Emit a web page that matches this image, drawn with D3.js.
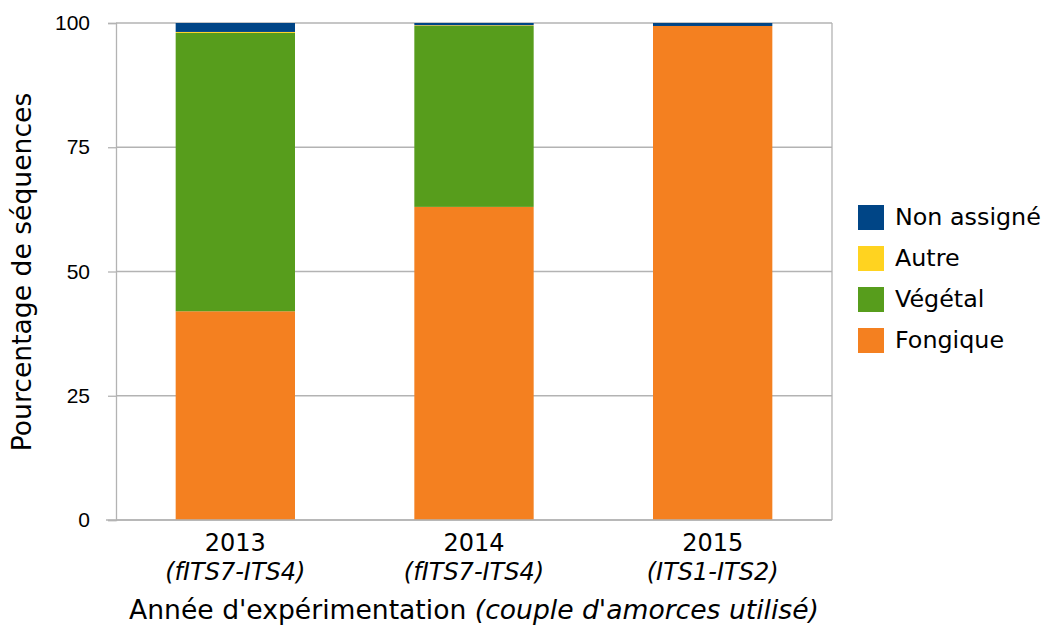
<!DOCTYPE html>
<html><head><meta charset="utf-8">
<script src="https://cdn.jsdelivr.net/npm/d3@7"></script>
<style>body{margin:0;background:#fff}</style>
</head><body>
<svg id="c" width="1043" height="626"></svg>
<script>
const years = ["2013","2014","2015"];
const primers = ["(fITS7-ITS4)","(fITS7-ITS4)","(ITS1-ITS2)"];
const seriesNames = ["Fongique","Végétal","Autre","Non assigné"];
const fongique = [42.0, 63.0, 99.4];
const vegetal = [56.0, 36.4, 0.0];
const autre = [0.2, 0.15, 0.0];
const nonAssigne = [1.8, 0.45, 0.6];
const colors = ["#f48020","#579d1c","#ffd320","#004586"];
const yTicks = [0,25,50,75,100];

const svg = d3.select("#c");
const m = {l:116, r:832, t:23, b:520};
const x = d3.scaleBand().domain(years).range([m.l,m.r]).paddingInner(0.5).paddingOuter(0.25);
const y = d3.scaleLinear().domain([0,100]).range([m.b,m.t]);
const grey = "#b3b3b3";

// grid
svg.append("g").selectAll("line").data(yTicks).join("line")
  .attr("x1",m.l).attr("x2",m.r).attr("y1",d=>y(d)).attr("y2",d=>y(d))
  .attr("stroke",grey).attr("stroke-width",1.3);
svg.append("line").attr("x1",m.r).attr("x2",m.r).attr("y1",m.t).attr("y2",m.b).attr("stroke",grey).attr("stroke-width",1.3);

const rows = years.map((yr,i)=>({year:yr, "Fongique":fongique[i], "Végétal":vegetal[i], "Autre":autre[i], "Non assigné":nonAssigne[i]}));
const stack = d3.stack().keys(seriesNames)(rows);
svg.append("g").selectAll("g").data(stack).join("g").attr("fill",(d,i)=>colors[i])
  .selectAll("rect").data(d=>d).join("rect")
  .attr("x",d=>x(d.data.year)).attr("width",x.bandwidth())
  .attr("y",d=>y(d[1])).attr("height",d=>y(d[0])-y(d[1]));

// y axis
const ya = svg.append("g").attr("transform",`translate(${m.l},0)`)
  .call(d3.axisLeft(y).tickValues(yTicks).tickSize(8).tickPadding(18));
ya.select(".domain").attr("stroke",grey).attr("stroke-width",1.3);
ya.selectAll(".tick line").attr("stroke",grey).attr("stroke-width",1.3);
ya.selectAll(".tick text").attr("fill","#000").style("font-family","Liberation Sans").style("font-size","21px");

// x axis baseline
svg.append("line").attr("x1",m.l-10).attr("x2",m.r).attr("y1",m.b).attr("y2",m.b).attr("stroke",grey).attr("stroke-width",1.3);

const xa = svg.append("g").attr("transform",`translate(0,${m.b})`).call(d3.axisBottom(x).tickSize(0).tickFormat(""));
xa.select(".domain").remove();
const cat = svg.append("g").style("font-family","DejaVu Sans").style("font-size","24px").attr("text-anchor","middle");
cat.selectAll("text.yr").data(years).join("text").attr("class","yr").attr("x",d=>x(d)+x.bandwidth()/2).attr("y",551).text(d=>d);
cat.selectAll("text.pr").data(primers).join("text").attr("class","pr").attr("x",(d,i)=>x(years[i])+x.bandwidth()/2).attr("y",580).style("font-style","italic").text(d=>d);

// axis titles
const xt = svg.append("text").attr("x",(m.l+m.r)/2).attr("y",619).attr("text-anchor","middle")
  .style("font-family","DejaVu Sans").style("font-size","26.6px");
xt.append("tspan").text("Année d'expérimentation ");
xt.append("tspan").style("font-style","italic").text("(couple d'amorces utilisé)");

svg.append("text").attr("transform","translate(31,272) rotate(-90)").attr("text-anchor","middle")
  .style("font-family","DejaVu Sans").style("font-size","26.6px").text("Pourcentage de séquences");

// legend
const legOrder = ["Non assigné","Autre","Végétal","Fongique"];
const lg = svg.append("g").selectAll("g").data(legOrder).join("g")
  .attr("transform",(d,i)=>`translate(858,${205+i*41})`);
lg.append("rect").attr("width",26).attr("height",25).attr("fill",d=>colors[seriesNames.indexOf(d)]);
lg.append("text").attr("x",37).attr("y",20).style("font-family","DejaVu Sans").style("font-size","23.8px").text(d=>d);
</script>
</body></html>
